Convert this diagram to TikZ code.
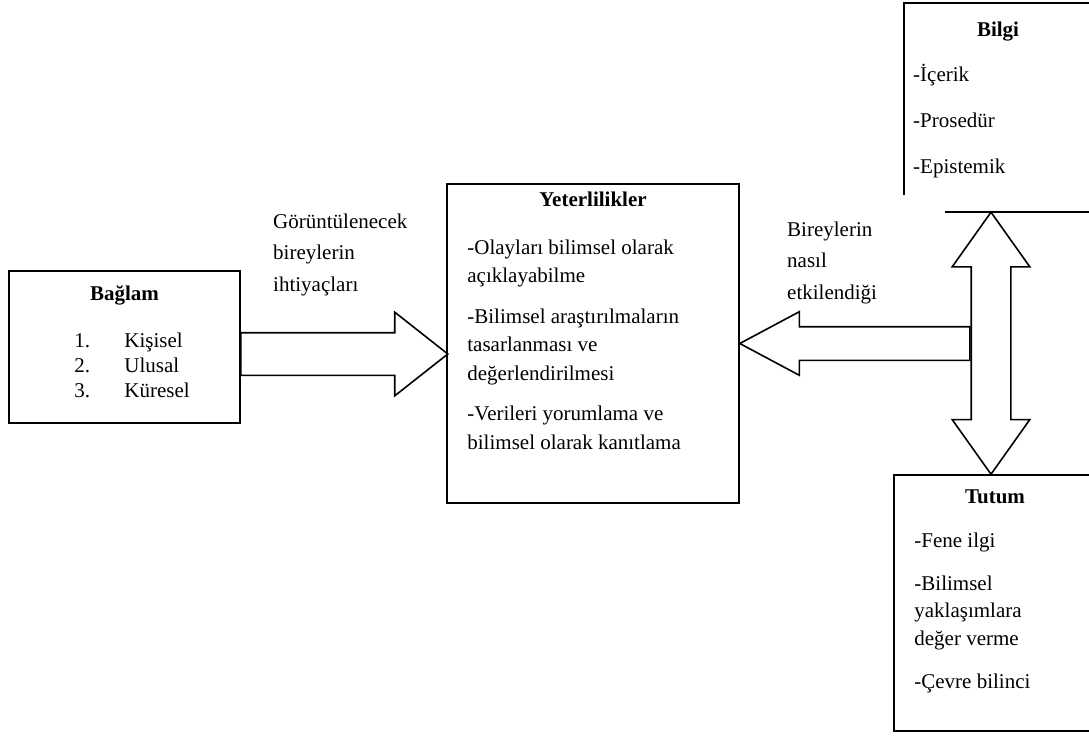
\documentclass[tikz,border=0pt]{standalone}
\usepackage{fontspec}
\setmainfont{Liberation Serif}
\usetikzlibrary{shapes.arrows, positioning, calc}
\newcommand{\firstln}{\rule{0pt}{20pt}}

\begin{document}
\begin{tikzpicture}[
    x=1pt, y=-1pt,
    every node/.style={font=\fontsize{21}{28}\selectfont},
    panel/.style={rectangle, draw=black, line width=1.6pt, inner sep=0pt},
    ttl/.style={anchor=base, inner sep=0pt, font=\fontsize{21}{28}\selectfont\bfseries},
    body/.style={anchor=north west, align=left, inner sep=0pt},
    bigarrow/.style={single arrow, draw=black, line width=1.6pt, inner xsep=0pt, outer sep=0pt, minimum width=0pt},
    dblarrow/.style={double arrow, draw=black, line width=1.6pt, inner xsep=0pt, outer sep=0pt, minimum width=0pt}
]
\useasboundingbox (0,0) rectangle (1089,736);
\clip (0,0) rectangle (1089,736);

% --- boxes ---
\node[panel, minimum width=231pt, minimum height=152pt] (baglam) at (124.5,347) {};
\node[panel, minimum width=292pt, minimum height=319pt] (yeter) at (593,343.5) {};
\node[minimum width=188pt, minimum height=192pt, inner sep=0pt, outer sep=0pt] (bilgi) at (998,99) {};
\node[panel, minimum width=202pt, minimum height=256pt] (tutum) at (995,603) {};

% open frame of Bilgi
\draw[line width=1.6pt] (bilgi.south west) -- (bilgi.north west) -- (bilgi.north east);
\draw[line width=1.6pt] ($(bilgi.south west)+(41,17)$) -- ($(bilgi.south east)+(0,17)$);

% --- texts ---
\node[ttl] (baglamT) at ($(baglam.north)+(0,30)$) {Bağlam};
\node[body, font=\fontsize{21}{25}\selectfont] (baglamL) at ($(baglam.north west)+(66,57)$)
    {\firstln\makebox[50pt][l]{1.}Kişisel\\ \makebox[50pt][l]{2.}Ulusal\\ \makebox[50pt][l]{3.}Küresel};

\node[ttl] (yeterT) at ($(yeter.north)+(0,23)$) {Yeterlilikler};
\node[body, font=\fontsize{21}{28.5}\selectfont] (yeterL) at ($(yeter.north west)+(21,51)$)
    {\firstln-Olayları bilimsel olarak\\açıklayabilme\\[12pt]-Bilimsel araştırılmaların\\tasarlanması ve\\değerlendirilmesi\\[12pt]-Verileri yorumlama ve\\bilimsel olarak kanıtlama};

\node[ttl] (bilgiT) at ($(bilgi.north)+(0,33)$) {Bilgi};
\node[body] (bilgiL) at ($(bilgi.north west)+(9,58)$)
    {\firstln-İçerik\\[18pt]-Prosedür\\[18pt]-Epistemik};

\node[ttl] (tutumT) at ($(tutum.north)+(0,29)$) {Tutum};
\node[body, font=\fontsize{21}{27.5}\selectfont] (tutumL) at ($(tutum.north west)+(21,53)$)
    {\firstln-Fene ilgi\\[15.5pt]-Bilimsel\\yaklaşımlara\\değer verme\\[15.5pt]-Çevre bilinci};

% --- arrow labels ---
\node[body, font=\fontsize{21}{31.5}\selectfont] (ihtiyac) at (273,208)
    {\firstln Görüntülenecek\\bireylerin\\ihtiyaçları};
\node[body, font=\fontsize{21}{31.5}\selectfont] (etki) at (787,216)
    {\firstln Bireylerin\\nasıl\\etkilendiği};

% --- block arrows ---
\node[bigarrow, inner ysep=20.5pt, single arrow head extend=20.5pt, single arrow tip angle=76.5,
      minimum height=207pt, anchor=tail] (ok1) at ($(baglam.east)+(0,7)$) {};
\node[bigarrow, rotate=180, inner ysep=16pt, single arrow head extend=15pt, single arrow tip angle=56.2,
      minimum height=230pt, anchor=tip] (ok2) at (yeter.east) {};
\node[dblarrow, rotate=90, inner ysep=19pt, double arrow head extend=19pt, double arrow tip angle=70.8,
      minimum height=262pt] (ok3) at ($(tutum.north)+(-4,-131)$) {};
\end{tikzpicture}
\end{document}
